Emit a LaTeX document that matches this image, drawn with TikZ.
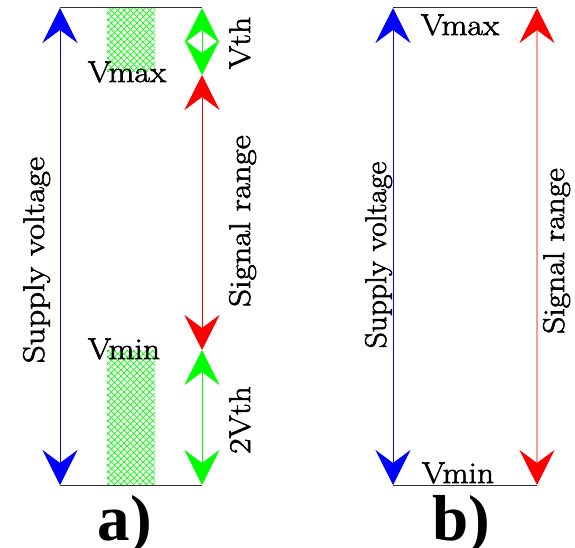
\documentclass[tikz,border=0pt]{standalone}
\usepackage{fontspec}
\newfontfamily\labelfont{Liberation Serif}
\newfontfamily\txtfont{Latin Modern Roman}[FakeStretch=1.12,FakeBold=2]
\newfontfamily\txtwide{Latin Modern Roman}[FakeStretch=1.16,FakeBold=2]
\newfontfamily\txtnarrow{Latin Modern Roman}[FakeStretch=1.05,FakeBold=2]
\usetikzlibrary{arrows.meta,patterns.meta}

\tikzset{
  dim/.style={line width=0.8pt,{Stealth[length=35pt,width=35pt,inset=13pt]}-{Stealth[length=35pt,width=35pt,inset=13pt]}},
  rail/.style={draw=black!80,line width=1pt},
  txt/.style={font=\txtfont\fontsize{30}{36}\selectfont,inner sep=0pt},
  vtxt/.style={txt,rotate=90,anchor=base},
  panel/.style={font=\labelfont\bfseries\fontsize{65}{70}\selectfont,inner sep=0pt,anchor=base},
  hatchA/.style={pattern={Lines[angle=45,distance=4.5pt,line width=0.7pt]},pattern color=green},
  hatchB/.style={pattern={Lines[angle=-45,distance=4.5pt,line width=0.7pt]},pattern color=green}
}

\begin{document}
\begin{tikzpicture}[x=1pt,y=-1pt]
\useasboundingbox (0,0) rectangle (575,548);

% ---------- panel a ----------
\coordinate (aTL) at (60,8);
\coordinate (aTR) at (202,8);
\coordinate (aBL) at (60,485);
\coordinate (aBR) at (202,485);
\coordinate (aVth) at (202,75);
\coordinate (aSig) at (202,350);

% shaded margins near the rails
\foreach \s in {hatchA,hatchB}{
  \fill[\s] (107,8) rectangle (155,72);
  \fill[\s] (107,350) rectangle (155,485);
}

\draw[rail] (aTL) -- (aTR);
\draw[rail] (aBL) -- (aBR);

\draw[dim,blue] (aTL) -- (aBL);
\draw[dim,green] (aTR) -- (aVth);
\draw[dim,red] (aVth) -- (aSig);
\draw[dim,green] (aSig) -- (aBR);

\node[txt,anchor=base] (vmaxA) at (127,82) {Vmax};
\node[txt,anchor=base] (vminA) at (124,359) {Vmin};
\node[vtxt,font=\txtwide\fontsize{30}{36}\selectfont] (supA) at (44,260) {Supply voltage};
\node[vtxt,font=\txtwide\fontsize{30}{36}\selectfont] (sigA) at (250,221) {Signal range};
\node[vtxt] (vthA) at (250,43) {Vth};
\node[vtxt] (vth2A) at (250,420) {2Vth};
\node[panel] (labA) at (125,540) {a)};

% ---------- panel b ----------
\coordinate (bTL) at (393,8);
\coordinate (bTR) at (537,8);
\coordinate (bBL) at (393,485);
\coordinate (bBR) at (537,485);

\draw[rail] (bTL) -- (bTR);
\draw[rail] (bBL) -- (bBR);

\draw[dim,blue] (bTL) -- (bBL);
\draw[line width=1.3pt,red!40,{Stealth[length=35pt,width=35pt,inset=13pt,red]}-{Stealth[length=35pt,width=35pt,inset=13pt,red]}] (bTR) -- (bBR);

\node[txt,anchor=base] (vmaxB) at (460,35) {Vmax};
\node[txt,anchor=base] (vminB) at (458,483) {Vmin};
\node[vtxt,font=\txtnarrow\fontsize{30}{36}\selectfont] (supB) at (386,255) {Supply voltage};
\node[vtxt] (sigB) at (564,251) {Signal range};
\node[panel] (labB) at (461,540) {b)};
\end{tikzpicture}
\end{document}
